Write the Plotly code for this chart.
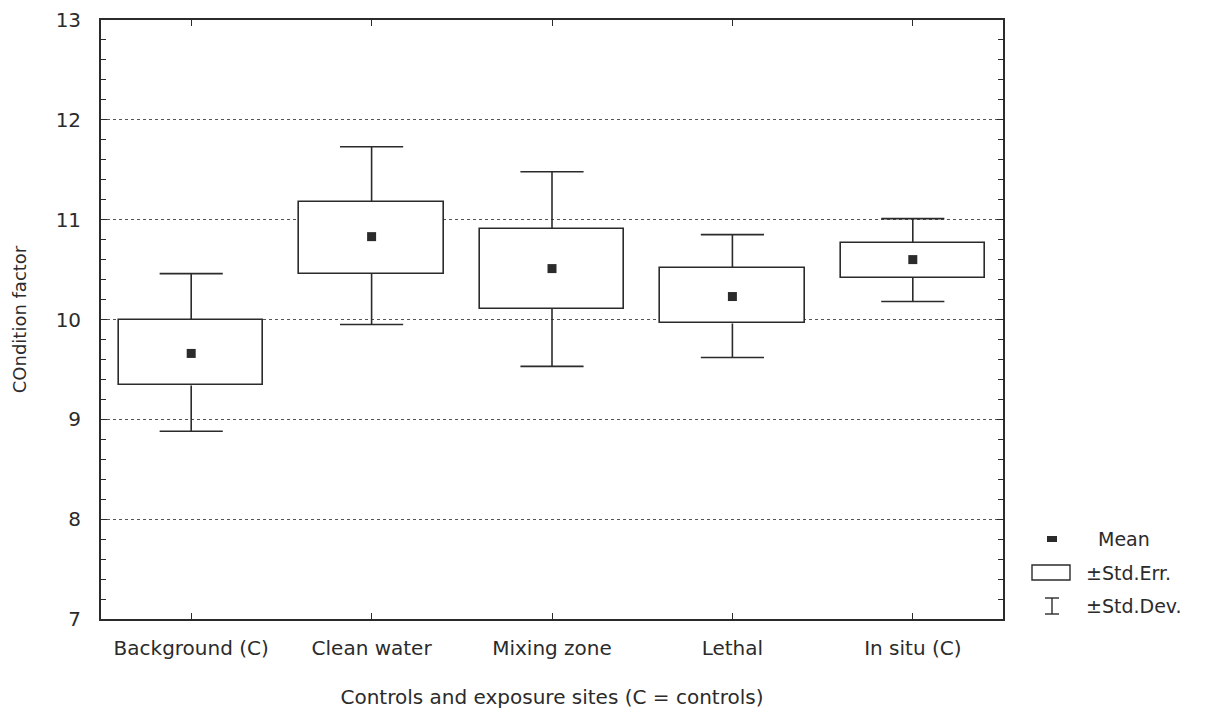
import plotly.graph_objects as go

categories = ["Background (C)", "Clean water", "Mixing zone", "Lethal", "In situ (C)"]
mean = [9.66, 10.83, 10.51, 10.23, 10.60]
se_low = [9.34, 10.46, 10.11, 9.96, 10.42]
se_high = [10.00, 11.18, 10.91, 10.52, 10.77]
sd_low = [8.88, 9.95, 9.53, 9.62, 10.18]
sd_high = [10.46, 11.73, 11.48, 10.85, 11.01]

INK = "#2b2b2b"
FONT = "DejaVu Sans"
xs = list(range(len(categories)))
cap = 0.175

fig = go.Figure()

# +/- Std.Err. boxes
fig.add_trace(go.Bar(
    x=xs, y=[h - l for h, l in zip(se_high, se_low)], base=se_low,
    width=0.8, marker=dict(color="white", line=dict(color=INK, width=1.6)),
    showlegend=False, hoverinfo="skip"))

# +/- Std.Dev. whiskers
wx, wy = [], []
for i in xs:
    wx += [i, i, None, i, i, None, i - cap, i + cap, None, i - cap, i + cap, None]
    wy += [se_high[i], sd_high[i], None, se_low[i], sd_low[i], None,
           sd_high[i], sd_high[i], None, sd_low[i], sd_low[i], None]
fig.add_trace(go.Scatter(x=wx, y=wy, mode="lines", line=dict(color=INK, width=1.6),
                         showlegend=False, hoverinfo="skip"))

# Means
fig.add_trace(go.Scatter(x=xs, y=mean, mode="markers",
                         marker=dict(symbol="square", size=9, color=INK),
                         showlegend=False))

W, H = 1206, 717
OFF = 8  # page body margin
PL, PR, PT, PB = 101, 1003, 20, 619  # plot area in page pixels
L = PL - OFF
T = PT - OFF
R = W - (PR - OFF)
B = H - (PB - OFF)
pw = PR - PL
ph = PB - PT

def px(xp):
    return (xp - PL) / pw

def py(yp):
    return (PB - yp) / ph

fig.update_layout(
    width=W, height=H,
    margin=dict(l=L, r=R, t=T, b=B),
    plot_bgcolor="white", paper_bgcolor="white",
    font=dict(family=FONT, color=INK),
    bargap=0,
    showlegend=False,
    xaxis=dict(
        range=[-0.5, 4.5], tickmode="array", tickvals=xs, ticktext=categories,
        automargin=False,
        showgrid=False, zeroline=False, showline=True, linecolor=INK, linewidth=1.8,
        mirror="ticks", ticks="inside", ticklen=6, tickcolor=INK,
        tickfont=dict(size=20, family=FONT), ticklabelstandoff=10,
        title=dict(text="Controls and exposure sites (C = controls)",
                   font=dict(size=20, family=FONT), standoff=31),
    ),
    yaxis=dict(
        range=[7, 13], dtick=1, showgrid=True, gridcolor="#555", griddash="dot",
        automargin=False,
        gridwidth=1, zeroline=False, showline=True, linecolor=INK, linewidth=1.8,
        mirror="ticks", ticks="inside", ticklen=6, tickcolor=INK,
        minor=dict(dtick=0.2, ticks="inside", ticklen=5, tickcolor=INK, showgrid=False),
        tickfont=dict(size=20, family=FONT), ticklabelstandoff=14,
        title=dict(text="COndition factor", font=dict(size=18, family=FONT), standoff=24),
    ),
)

# Legend (drawn manually to mimic the original key)
shapes = [
    dict(type="rect", xref="paper", yref="paper",
         x0=px(1047), x1=px(1057), y0=py(542), y1=py(536),
         fillcolor=INK, line=dict(width=0)),
    dict(type="rect", xref="paper", yref="paper",
         x0=px(1032), x1=px(1070), y0=py(580), y1=py(565),
         fillcolor="white", line=dict(color=INK, width=1.4)),
    dict(type="line", xref="paper", yref="paper",
         x0=px(1052), x1=px(1052), y0=py(614), y1=py(598), line=dict(color=INK, width=1.4)),
    dict(type="line", xref="paper", yref="paper",
         x0=px(1045), x1=px(1059), y0=py(598), y1=py(598), line=dict(color=INK, width=1.4)),
    dict(type="line", xref="paper", yref="paper",
         x0=px(1045), x1=px(1059), y0=py(614), y1=py(614), line=dict(color=INK, width=1.4)),
]
fig.update_layout(shapes=shapes)

for txt, xpos, ypos in [("Mean", 1096, 539), ("±Std.Err.", 1084, 573), ("±Std.Dev.", 1084, 606)]:
    fig.add_annotation(text=txt, xref="paper", yref="paper", x=px(xpos), y=py(ypos),
                       xanchor="left", yanchor="middle", showarrow=False,
                       font=dict(size=19, family=FONT, color=INK))

fig.write_html("out.html")
